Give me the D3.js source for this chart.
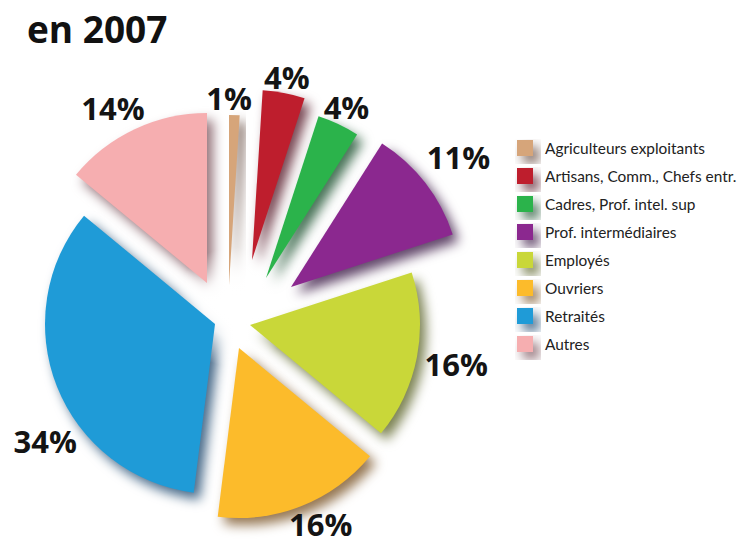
<!DOCTYPE html>
<html>
<head>
<meta charset="utf-8">
<script src="https://cdnjs.cloudflare.com/ajax/libs/d3/7.8.5/d3.min.js"></script>
<style>
  body { margin: 0; background: #fff; }
  svg { display: block; font-family: "Open Sans", "Noto Sans", sans-serif; }
</style>
</head>
<body>
<div id="chart"></div>
<script>
// data
var categories = ['Agriculteurs exploitants', 'Artisans, Comm., Chefs entr.', 'Cadres, Prof. intel. sup',
  'Prof. intermédiaires', 'Employés', 'Ouvriers', 'Retraités', 'Autres'];
var shares = [1, 4, 4, 11, 16, 16, 34, 14];
var colors = ['#d6a57a', '#be1e2d', '#2bb34b', '#8b288f', '#c9d739', '#fcbb2b', '#1f9bd7', '#f6aeb0'];
var title = 'en 2007';

// layout
var width = 742, height = 544;
var cx = 232, cy = 305, radius = 170;
// hand placed explosion of each slice (dx, dy from pie centre)
var explode = [[-3, -20], [20, -45], [34, -27], [59, -18], [18, 20], [7, 43], [-17, 19], [-25, -22]];
// label radius and angle shift (deg) from the slice tip
var labelPos = [[187, -1.8], [186, 0], [189, 0], [212, 0], [210, 0], [194, -3.3], [206, -12.9], [199, -3]];

var svg = d3.select('#chart').append('svg')
  .attr('width', width)
  .attr('height', height);

// drop shadow, tinted by the shape colour
var defs = svg.append('defs');
var f = defs.append('filter').attr('id', 'shadow')
  .attr('x', '-50%').attr('y', '-50%').attr('width', '200%').attr('height', '200%');
f.append('feGaussianBlur').attr('in', 'SourceGraphic').attr('stdDeviation', 6).attr('result', 'b');
f.append('feOffset').attr('in', 'b').attr('dx', 6).attr('dy', 7).attr('result', 'o');
f.append('feColorMatrix').attr('in', 'o').attr('type', 'matrix')
  .attr('values', '0.25 0 0 0 0.06  0 0.25 0 0 0.06  0 0 0.25 0 0.08  0 0 0 1 0');

var glow = defs.append('radialGradient').attr('id', 'glow');
glow.append('stop').attr('offset', '0%').attr('stop-color', '#fff').attr('stop-opacity', 1);
glow.append('stop').attr('offset', '50%').attr('stop-color', '#fff').attr('stop-opacity', 0.85);
glow.append('stop').attr('offset', '100%').attr('stop-color', '#fff').attr('stop-opacity', 0);

// title
svg.append('text')
  .attr('x', 27).attr('y', 43)
  .style('font-size', '37px').style('font-weight', 700).style('fill', '#111')
  .text(title);

var pie = d3.pie().sort(null).value(function (d) { return d; });
var arcs = pie(shares);
var arc = d3.arc().innerRadius(0).outerRadius(radius);

function tip(i) {
  return [cx + explode[i][0], cy + explode[i][1]];
}

var g = svg.append('g');

// shadows first
g.selectAll('path.sh')
  .data(arcs).enter()
  .append('path')
  .attr('class', 'sh')
  .attr('d', arc)
  .attr('fill', function (d, i) { return colors[i]; })
  .attr('filter', 'url(#shadow)')
  .attr('transform', function (d, i) { return 'translate(' + tip(i) + ')'; });

// white light in the middle
g.append('circle')
  .attr('cx', cx + 2).attr('cy', cy + 2).attr('r', 60)
  .attr('fill', 'url(#glow)');

g.selectAll('path.sl')
  .data(arcs).enter()
  .append('path')
  .attr('class', 'sl')
  .attr('d', arc)
  .attr('fill', function (d, i) { return colors[i]; })
  .attr('transform', function (d, i) { return 'translate(' + tip(i) + ')'; });

// percentage labels
g.selectAll('text.pct')
  .data(arcs).enter()
  .append('text')
  .attr('class', 'pct')
  .attr('text-anchor', 'middle')
  .attr('dominant-baseline', 'central')
  .style('font-size', '31px').style('font-weight', 700).style('fill', '#141414')
  .attr('x', function (d, i) {
    var a = (d.startAngle + d.endAngle) / 2 + labelPos[i][1] * Math.PI / 180;
    return tip(i)[0] + labelPos[i][0] * Math.sin(a);
  })
  .attr('y', function (d, i) {
    var a = (d.startAngle + d.endAngle) / 2 + labelPos[i][1] * Math.PI / 180;
    return tip(i)[1] - labelPos[i][0] * Math.cos(a);
  })
  .text(function (d) { return d.data + '%'; });

// legend
var legendX = 517, legendY = 140, legendStep = 28, box = 16;
var legend = svg.selectAll('.legend')
  .data(categories).enter()
  .append('g')
  .attr('class', 'legend')
  .attr('transform', function (d, i) { return 'translate(' + legendX + ',' + (legendY + i * legendStep) + ')'; });

legend.append('rect')
  .attr('width', box).attr('height', box)
  .attr('fill', function (d, i) { return colors[i]; })
  .attr('filter', 'url(#shadow)');
legend.append('rect')
  .attr('width', box).attr('height', box)
  .attr('fill', function (d, i) { return colors[i]; });

legend.append('text')
  .attr('x', 28).attr('y', box / 2)
  .attr('dominant-baseline', 'central')
  .style('font-family', 'Lato, "Open Sans", sans-serif')
  .style('font-size', '15.4px').style('fill', '#222')
  .text(function (d) { return d; });
</script>
</body>
</html>
